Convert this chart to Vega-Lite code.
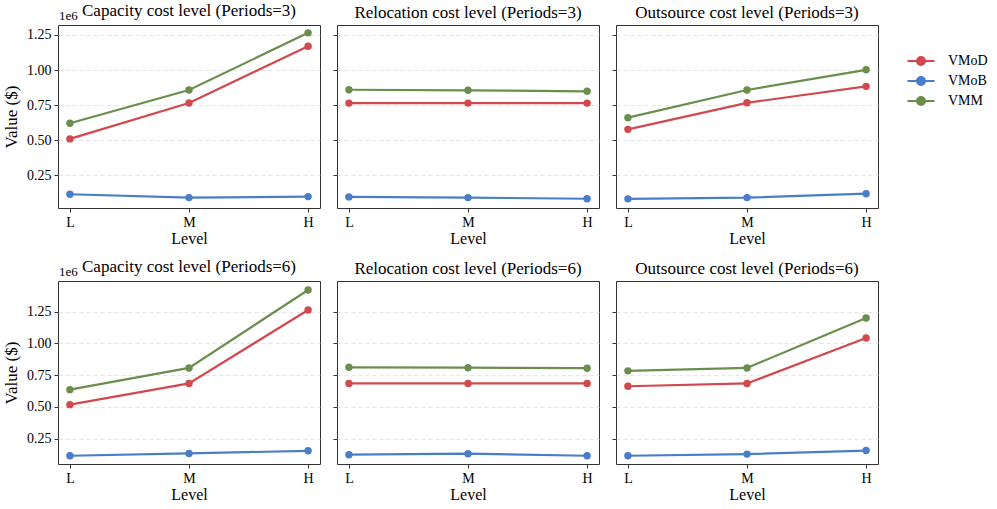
{
  "$schema": "https://vega.github.io/schema/vega-lite/v6.json",
  "padding": {"left": 2, "top": 1, "right": 5, "bottom": 5},
  "background": "white",
  "datasets": {
    "d": [
      {"period": 3, "factor": "Capacity", "level": "L", "method": "VMoD", "value": 510000},
      {"period": 3, "factor": "Capacity", "level": "M", "method": "VMoD", "value": 766000},
      {"period": 3, "factor": "Capacity", "level": "H", "method": "VMoD", "value": 1170000},
      {"period": 3, "factor": "Capacity", "level": "L", "method": "VMoB", "value": 116000},
      {"period": 3, "factor": "Capacity", "level": "M", "method": "VMoB", "value": 92000},
      {"period": 3, "factor": "Capacity", "level": "H", "method": "VMoB", "value": 99000},
      {"period": 3, "factor": "Capacity", "level": "L", "method": "VMM", "value": 621000},
      {"period": 3, "factor": "Capacity", "level": "M", "method": "VMM", "value": 858000},
      {"period": 3, "factor": "Capacity", "level": "H", "method": "VMM", "value": 1265000},
      {"period": 3, "factor": "Relocation", "level": "L", "method": "VMoD", "value": 765000},
      {"period": 3, "factor": "Relocation", "level": "M", "method": "VMoD", "value": 765000},
      {"period": 3, "factor": "Relocation", "level": "H", "method": "VMoD", "value": 765000},
      {"period": 3, "factor": "Relocation", "level": "L", "method": "VMoB", "value": 97000},
      {"period": 3, "factor": "Relocation", "level": "M", "method": "VMoB", "value": 92000},
      {"period": 3, "factor": "Relocation", "level": "H", "method": "VMoB", "value": 84000},
      {"period": 3, "factor": "Relocation", "level": "L", "method": "VMM", "value": 860000},
      {"period": 3, "factor": "Relocation", "level": "M", "method": "VMM", "value": 856000},
      {"period": 3, "factor": "Relocation", "level": "H", "method": "VMM", "value": 849000},
      {"period": 3, "factor": "Outsource", "level": "L", "method": "VMoD", "value": 578000},
      {"period": 3, "factor": "Outsource", "level": "M", "method": "VMoD", "value": 767000},
      {"period": 3, "factor": "Outsource", "level": "H", "method": "VMoD", "value": 884000},
      {"period": 3, "factor": "Outsource", "level": "L", "method": "VMoB", "value": 83000},
      {"period": 3, "factor": "Outsource", "level": "M", "method": "VMoB", "value": 92000},
      {"period": 3, "factor": "Outsource", "level": "H", "method": "VMoB", "value": 120000},
      {"period": 3, "factor": "Outsource", "level": "L", "method": "VMM", "value": 661000},
      {"period": 3, "factor": "Outsource", "level": "M", "method": "VMM", "value": 858000},
      {"period": 3, "factor": "Outsource", "level": "H", "method": "VMM", "value": 1002000},
      {"period": 6, "factor": "Capacity", "level": "L", "method": "VMoD", "value": 518000},
      {"period": 6, "factor": "Capacity", "level": "M", "method": "VMoD", "value": 685000},
      {"period": 6, "factor": "Capacity", "level": "H", "method": "VMoD", "value": 1263000},
      {"period": 6, "factor": "Capacity", "level": "L", "method": "VMoB", "value": 116000},
      {"period": 6, "factor": "Capacity", "level": "M", "method": "VMoB", "value": 134000},
      {"period": 6, "factor": "Capacity", "level": "H", "method": "VMoB", "value": 155000},
      {"period": 6, "factor": "Capacity", "level": "L", "method": "VMM", "value": 636000},
      {"period": 6, "factor": "Capacity", "level": "M", "method": "VMM", "value": 807000},
      {"period": 6, "factor": "Capacity", "level": "H", "method": "VMM", "value": 1420000},
      {"period": 6, "factor": "Relocation", "level": "L", "method": "VMoD", "value": 685000},
      {"period": 6, "factor": "Relocation", "level": "M", "method": "VMoD", "value": 685000},
      {"period": 6, "factor": "Relocation", "level": "H", "method": "VMoD", "value": 685000},
      {"period": 6, "factor": "Relocation", "level": "L", "method": "VMoB", "value": 124000},
      {"period": 6, "factor": "Relocation", "level": "M", "method": "VMoB", "value": 132000},
      {"period": 6, "factor": "Relocation", "level": "H", "method": "VMoB", "value": 116000},
      {"period": 6, "factor": "Relocation", "level": "L", "method": "VMM", "value": 812000},
      {"period": 6, "factor": "Relocation", "level": "M", "method": "VMM", "value": 809000},
      {"period": 6, "factor": "Relocation", "level": "H", "method": "VMM", "value": 805000},
      {"period": 6, "factor": "Outsource", "level": "L", "method": "VMoD", "value": 663000},
      {"period": 6, "factor": "Outsource", "level": "M", "method": "VMoD", "value": 685000},
      {"period": 6, "factor": "Outsource", "level": "H", "method": "VMoD", "value": 1042000},
      {"period": 6, "factor": "Outsource", "level": "L", "method": "VMoB", "value": 116000},
      {"period": 6, "factor": "Outsource", "level": "M", "method": "VMoB", "value": 129000},
      {"period": 6, "factor": "Outsource", "level": "H", "method": "VMoB", "value": 157000},
      {"period": 6, "factor": "Outsource", "level": "L", "method": "VMM", "value": 784000},
      {"period": 6, "factor": "Outsource", "level": "M", "method": "VMM", "value": 807000},
      {"period": 6, "factor": "Outsource", "level": "H", "method": "VMM", "value": 1200000}
    ]
  },
  "spacing": 10,
  "vconcat": [
    {
      "spacing": 11,
      "hconcat": [
        {
          "width": 262, "height": 183,
          "title": {"text": "Capacity cost level (Periods=3)", "dy": 13},
          "layer": [
            {"data": {"name": "d"}, "transform": [{"filter": "datum.period == 3 && datum.factor == 'Capacity'"}], "mark": {"type": "line", "strokeWidth": 2.2},
             "encoding": {
               "x": {"field": "level", "type": "ordinal", "scale": {"type": "point", "domain": ["L", "M", "H"], "padding": 0.1}, "axis": {"title": "Level", "labelAngle": 0}},
               "y": {"field": "value", "type": "quantitative", "scale": {"domain": [18000, 1321000], "nice": false, "zero": false}, "axis": {"title": "Value ($)", "values": [250000, 500000, 750000, 1000000, 1250000], "labelExpr": "format(datum.value / 1e6, '.2f')"}},
               "color": {"field": "method", "type": "nominal", "scale": {"domain": ["VMoD", "VMoB", "VMM"], "range": ["#d1494e", "#4a7dc9", "#6b8e4e"]}}}},
            {"data": {"name": "d"}, "transform": [{"filter": "datum.period == 3 && datum.factor == 'Capacity'"}], "mark": {"type": "point", "filled": true, "size": 55, "opacity": 1},
             "encoding": {"x": {"field": "level", "type": "ordinal"}, "y": {"field": "value", "type": "quantitative"}, "color": {"field": "method", "type": "nominal"}}},
            {"data": {"values": [{"t": "1e6"}]}, "mark": {"type": "text", "align": "left", "baseline": "bottom", "dx": -11, "dy": -2, "fontSize": 13, "font": "Liberation Serif", "fill": "black"},
             "encoding": {"x": {"datum": "L"}, "y": {"datum": 1321000}, "text": {"field": "t", "type": "nominal"}}}
          ]
        },
        {
          "width": 262, "height": 183,
          "title": "Relocation cost level (Periods=3)",
          "data": {"name": "d"},
          "transform": [{"filter": "datum.period == 3 && datum.factor == 'Relocation'"}],
          "encoding": {
            "x": {"field": "level", "type": "ordinal", "scale": {"type": "point", "domain": ["L", "M", "H"], "padding": 0.1}, "axis": {"title": "Level", "labelAngle": 0}},
            "y": {"field": "value", "type": "quantitative", "scale": {"domain": [18000, 1321000], "nice": false, "zero": false}, "axis": {"title": null, "labels": false, "values": [250000, 500000, 750000, 1000000, 1250000]}},
            "color": {"field": "method", "type": "nominal"}
          },
          "layer": [
            {"mark": {"type": "line", "strokeWidth": 2.2}},
            {"mark": {"type": "point", "filled": true, "size": 55, "opacity": 1}}
          ]
        },
        {
          "width": 262, "height": 183,
          "title": "Outsource cost level (Periods=3)",
          "data": {"name": "d"},
          "transform": [{"filter": "datum.period == 3 && datum.factor == 'Outsource'"}],
          "encoding": {
            "x": {"field": "level", "type": "ordinal", "scale": {"type": "point", "domain": ["L", "M", "H"], "padding": 0.1}, "axis": {"title": "Level", "labelAngle": 0}},
            "y": {"field": "value", "type": "quantitative", "scale": {"domain": [18000, 1321000], "nice": false, "zero": false}, "axis": {"title": null, "labels": false, "values": [250000, 500000, 750000, 1000000, 1250000]}},
            "color": {"field": "method", "type": "nominal"}
          },
          "layer": [
            {"mark": {"type": "line", "strokeWidth": 2.2}},
            {"mark": {"type": "point", "filled": true, "size": 55, "opacity": 1}}
          ]
        }
      ]
    },
    {
      "spacing": 11,
      "hconcat": [
        {
          "width": 262, "height": 183,
          "title": {"text": "Capacity cost level (Periods=6)", "dy": 13},
          "layer": [
            {"data": {"name": "d"}, "transform": [{"filter": "datum.period == 6 && datum.factor == 'Capacity'"}], "mark": {"type": "line", "strokeWidth": 2.2},
             "encoding": {
               "x": {"field": "level", "type": "ordinal", "scale": {"type": "point", "domain": ["L", "M", "H"], "padding": 0.1}, "axis": {"title": "Level", "labelAngle": 0}},
               "y": {"field": "value", "type": "quantitative", "scale": {"domain": [51000, 1491000], "nice": false, "zero": false}, "axis": {"title": "Value ($)", "values": [250000, 500000, 750000, 1000000, 1250000], "labelExpr": "format(datum.value / 1e6, '.2f')"}},
               "color": {"field": "method", "type": "nominal"}}},
            {"data": {"name": "d"}, "transform": [{"filter": "datum.period == 6 && datum.factor == 'Capacity'"}], "mark": {"type": "point", "filled": true, "size": 55, "opacity": 1},
             "encoding": {"x": {"field": "level", "type": "ordinal"}, "y": {"field": "value", "type": "quantitative"}, "color": {"field": "method", "type": "nominal"}}},
            {"data": {"values": [{"t": "1e6"}]}, "mark": {"type": "text", "align": "left", "baseline": "bottom", "dx": -11, "dy": -2, "fontSize": 13, "font": "Liberation Serif", "fill": "black"},
             "encoding": {"x": {"datum": "L"}, "y": {"datum": 1491000}, "text": {"field": "t", "type": "nominal"}}}
          ]
        },
        {
          "width": 262, "height": 183,
          "title": "Relocation cost level (Periods=6)",
          "data": {"name": "d"},
          "transform": [{"filter": "datum.period == 6 && datum.factor == 'Relocation'"}],
          "encoding": {
            "x": {"field": "level", "type": "ordinal", "scale": {"type": "point", "domain": ["L", "M", "H"], "padding": 0.1}, "axis": {"title": "Level", "labelAngle": 0}},
            "y": {"field": "value", "type": "quantitative", "scale": {"domain": [51000, 1491000], "nice": false, "zero": false}, "axis": {"title": null, "labels": false, "values": [250000, 500000, 750000, 1000000, 1250000]}},
            "color": {"field": "method", "type": "nominal"}
          },
          "layer": [
            {"mark": {"type": "line", "strokeWidth": 2.2}},
            {"mark": {"type": "point", "filled": true, "size": 55, "opacity": 1}}
          ]
        },
        {
          "width": 262, "height": 183,
          "title": "Outsource cost level (Periods=6)",
          "data": {"name": "d"},
          "transform": [{"filter": "datum.period == 6 && datum.factor == 'Outsource'"}],
          "encoding": {
            "x": {"field": "level", "type": "ordinal", "scale": {"type": "point", "domain": ["L", "M", "H"], "padding": 0.1}, "axis": {"title": "Level", "labelAngle": 0}},
            "y": {"field": "value", "type": "quantitative", "scale": {"domain": [51000, 1491000], "nice": false, "zero": false}, "axis": {"title": null, "labels": false, "values": [250000, 500000, 750000, 1000000, 1250000]}},
            "color": {"field": "method", "type": "nominal"}
          },
          "layer": [
            {"mark": {"type": "line", "strokeWidth": 2.2}},
            {"mark": {"type": "point", "filled": true, "size": 55, "opacity": 1}}
          ]
        }
      ]
    }
  ],
  "config": {
    "font": "Liberation Serif",
    "view": {"stroke": "#333333", "strokeWidth": 1},
    "title": {"font": "Liberation Serif", "fontSize": 17, "fontWeight": "normal", "color": "black", "offset": 3},
    "axis": {
      "labelFont": "Liberation Serif", "labelFontSize": 14, "labelColor": "black",
      "titleFont": "Liberation Serif", "titleFontSize": 16, "titleFontWeight": "normal", "titleColor": "black",
      "domain": false, "tickColor": "#333333", "tickSize": 4, "labelPadding": 3, "titlePadding": 4
    },
    "axisX": {"grid": false, "titlePadding": 1},
    "axisY": {"grid": true, "gridDash": [4, 3], "gridColor": "#dddddd", "gridWidth": 0.8, "titlePadding": 6, "titleFontSize": 17},
    "legend": {
      "orient": "none", "legendX": 856, "legendY": 29, "title": null,
      "labelFont": "Liberation Serif", "labelFontSize": 14, "labelColor": "black",
      "symbolType": "M-2.7,0L2.7,0M-0.8,0A0.8,0.8,0,1,1,0.8,0A0.8,0.8,0,1,1,-0.8,0Z",
      "symbolSize": 100, "symbolStrokeWidth": 2, "rowPadding": 4, "labelOffset": 20,
      "encode": {"symbols": {"update": {"stroke": {"scale": "color", "field": "value"}, "fill": {"scale": "color", "field": "value"}}}}
    }
  }
}
